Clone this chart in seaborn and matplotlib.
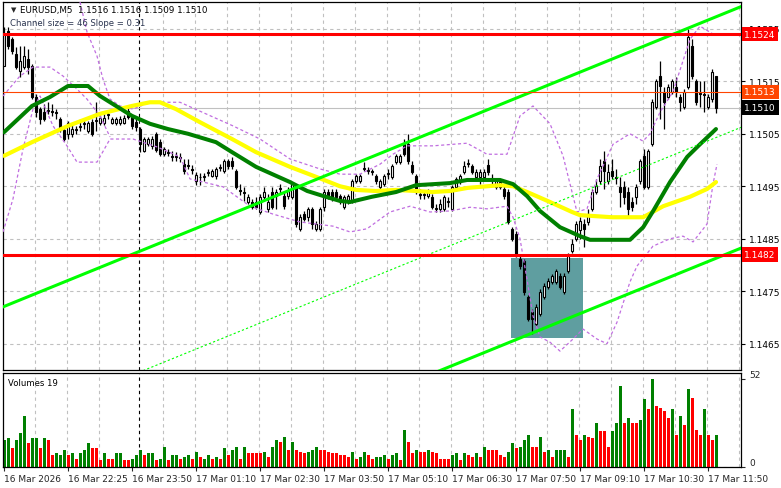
import numpy as np
import pandas as pd
import matplotlib
matplotlib.use("Agg")
import matplotlib.pyplot as plt
import matplotlib.transforms as mtransforms
from matplotlib.patches import Rectangle
import seaborn as sns

sns.set_theme(style="white")
plt.rcParams["font.family"] = ["DejaVu Sans"]

# EURUSD M5, prices as pips above 1.1500
BASE = 1.1500

opens = [17.9, 24.6, 23.0, 20.2, 17.0, 17.7, 19.2, 17.9, 12.0, 9.7,
         9.1, 9.3, 9.3, 9.1, 7.8, 5.7, 5.0, 5.0, 5.7, 6.3,
         6.9, 5.5, 7.2, 7.4, 7.0, 7.0, 8.6, 7.0, 7.0, 7.0,
         7.0, 9.3, 8.2, 7.2, 5.9, 1.7, 3.0, 2.7, 5.0, 3.4,
         1.1, 1.3, 0.6, 0.8, 0.6, -0.8, -1.0, -1.7, -4.0, -3.2,
         -3.2, -2.5, -3.0, -3.0, -1.5, -2.1, -0.2, -0.2, -2.1, -5.7,
         -6.1, -8.0, -8.0, -8.0, -9.9, -7.0, -9.3, -6.1, -6.9, -5.5,
         -6.9, -6.9, -7.0, -5.1, -13.1, -10.3, -10.9, -9.3, -13.1, -13.1,
         -9.0, -6.1, -6.1, -6.1, -6.9, -9.0, -7.8, -7.8, -4.0, -4.0,
         -1.7, -2.1, -2.1, -3.0, -5.1, -4.6, -2.7, -3.2, -0.4, -0.4,
         3.0, 3.0, -1.0, -3.0, -6.5, -6.7, -6.9, -7.0, -9.1, -9.3,
         -9.3, -8.0, -9.3, -5.1, -4.2, -2.3, -0.8, -1.1, -3.2, -3.2,
         -3.2, -1.0, -3.6, -5.1, -5.1, -5.5, -6.1, -13.1, -14.1, -18.9,
         -19.2, -26.1, -29.0, -31.2, -29.3, -26.1, -24.2, -23.2, -23.2, -22.1,
         -25.1, -21.1, -17.3, -15.0, -13.3, -12.2, -11.8, -9.3, -6.1, -4.0,
         -0.2, -4.0, -2.1, -3.2, -5.1, -5.1, -6.1, -8.0, -7.0, -4.0,
         0.8, -5.1, 3.0, 10.1, 16.0, 13.0, 12.0, 13.0, 13.9, 12.0,
         10.1, 13.9, 21.7, 15.0, 12.8, 12.6, 10.1, 11.6, 16.0]
highs = [25.3, 25.3, 23.4, 21.5, 21.7, 21.7, 21.1, 18.3, 12.6, 10.1,
         10.7, 11.0, 10.7, 9.7, 8.2, 6.3, 7.4, 6.9, 6.5, 7.8,
         7.8, 7.4, 7.8, 11.0, 8.6, 8.8, 9.3, 8.2, 8.2, 8.4,
         8.6, 10.1, 8.8, 7.8, 6.3, 4.4, 4.4, 4.6, 5.3, 4.0,
         2.5, 2.1, 1.7, 1.5, 1.3, 0.2, 0.2, -1.0, -2.3, -2.5,
         -2.5, -1.7, -1.7, -1.3, -0.8, 0.2, 0.2, 0.6, -1.7, -4.6,
         -5.1, -6.5, -7.4, -7.0, -6.5, -5.1, -6.5, -5.1, -5.5, -4.6,
         -6.1, -5.1, -4.2, -4.6, -10.3, -9.7, -9.0, -9.0, -11.6, -9.0,
         -5.5, -5.5, -5.5, -5.5, -6.5, -6.7, -6.5, -3.6, -2.7, -2.7,
         -0.4, -1.3, -1.7, -2.7, -3.6, -2.7, -1.7, -0.8, 1.1, 1.1,
         4.0, 5.0, -0.2, -2.7, -5.5, -5.9, -5.5, -6.5, -8.4, -7.4,
         -6.7, -7.0, -4.8, -3.2, -2.7, -0.2, 0.2, -0.8, -1.7, -1.7,
         -1.7, 0.2, -2.7, -3.6, -3.6, -4.8, -5.5, -12.8, -13.5, -18.3,
         -18.9, -25.7, -28.4, -27.4, -24.6, -23.4, -22.5, -21.7, -20.8, -21.5,
         -21.5, -17.7, -15.0, -11.6, -10.9, -11.2, -9.3, -5.5, -3.6, 0.2,
         1.7, -0.8, 0.2, -1.7, -3.2, -4.0, -5.1, -7.0, -4.6, 0.2,
         2.1, 2.1, 11.6, 15.4, 18.9, 13.9, 14.5, 15.4, 15.8, 12.6,
         13.5, 24.9, 23.0, 15.4, 15.0, 15.0, 12.6, 17.3, 16.0]
lows = [17.9, 21.1, 20.2, 17.3, 15.8, 17.3, 16.4, 11.6, 8.2, 6.9,
        7.4, 8.8, 8.4, 7.8, 5.3, 3.6, 4.0, 4.4, 5.0, 5.5,
        5.9, 5.1, 4.6, 5.5, 6.7, 6.7, 7.8, 6.9, 6.7, 6.7,
        6.9, 7.8, 5.9, 5.5, 1.5, 1.5, 2.7, 2.1, 1.5, 0.8,
        0.8, 0.8, -0.2, -0.2, -0.4, -2.7, -1.7, -2.7, -4.8, -4.8,
        -4.0, -3.0, -3.2, -3.6, -2.1, -2.5, -1.7, -1.7, -5.5, -6.7,
        -7.8, -8.4, -9.3, -9.3, -10.3, -7.4, -9.9, -9.3, -9.3, -6.5,
        -9.3, -7.4, -7.4, -12.8, -13.5, -11.6, -11.6, -13.1, -13.5, -13.5,
        -9.7, -7.4, -7.8, -7.4, -8.4, -9.3, -8.4, -8.2, -4.4, -4.4,
        -2.1, -2.7, -2.9, -4.6, -5.5, -5.0, -3.6, -3.6, -0.8, -0.8,
        0.8, -0.8, -2.7, -6.5, -7.4, -7.4, -7.2, -9.3, -9.9, -9.9,
        -9.7, -9.0, -9.7, -5.9, -4.6, -2.7, -1.3, -2.7, -3.6, -4.6,
        -3.6, -2.9, -4.6, -5.5, -5.5, -7.4, -12.2, -15.4, -18.5, -20.8,
        -25.7, -30.7, -33.1, -31.6, -29.7, -26.5, -24.6, -23.6, -23.6, -24.6,
        -25.5, -21.5, -17.7, -15.4, -15.0, -16.6, -12.4, -9.7, -6.5, -4.6,
        -5.5, -4.6, -3.6, -4.6, -9.0, -8.4, -10.9, -9.7, -8.4, -4.6,
        -5.5, -5.5, 2.7, 9.7, 7.8, 5.9, 11.6, 12.6, 12.0, 9.3,
        9.7, 13.5, 15.4, 10.5, 10.1, 9.1, 9.7, 11.0, 9.0]
closes = [24.0, 21.7, 20.8, 17.7, 18.9, 19.8, 17.7, 12.0, 9.1, 7.8,
          7.8, 9.5, 9.1, 9.0, 5.7, 4.0, 7.0, 5.9, 5.9, 6.5,
          7.0, 7.0, 5.0, 7.6, 8.0, 8.0, 8.8, 7.8, 7.8, 7.8,
          8.0, 8.2, 6.5, 6.3, 3.0, 4.0, 4.0, 4.0, 1.9, 1.1,
          2.1, 1.5, 0.8, 0.6, 0.4, -2.1, -1.1, -1.9, -2.9, -3.3,
          -3.0, -2.3, -2.1, -1.7, -1.3, -0.2, -1.1, -1.1, -5.1, -5.9,
          -6.3, -7.0, -9.0, -9.0, -7.0, -6.1, -8.0, -9.0, -6.1, -5.3,
          -8.8, -5.9, -4.6, -12.2, -10.9, -11.2, -9.3, -12.2, -12.2, -9.3,
          -6.1, -7.0, -7.4, -7.0, -7.8, -7.0, -6.9, -4.0, -3.0, -3.0,
          -1.5, -1.9, -2.3, -4.0, -4.0, -3.0, -2.5, -1.1, 0.8, 0.8,
          1.1, -0.2, -2.3, -6.1, -6.7, -6.5, -5.9, -9.0, -9.3, -8.4,
          -7.0, -7.8, -5.1, -3.6, -3.0, -1.1, -0.6, -2.3, -2.3, -2.3,
          -2.3, -2.3, -3.8, -4.0, -4.2, -6.9, -11.8, -15.0, -18.3, -20.2,
          -25.1, -30.3, -30.3, -28.0, -25.1, -24.0, -23.1, -22.1, -21.1, -24.2,
          -22.1, -18.3, -16.0, -12.2, -11.6, -13.1, -10.3, -6.1, -5.0, -1.1,
          -2.1, -2.3, -3.0, -3.4, -6.1, -7.0, -9.3, -9.0, -5.1, -0.2,
          -5.1, 1.7, 11.0, 15.0, 14.1, 11.0, 13.9, 15.0, 13.0, 11.0,
          13.0, 23.4, 16.0, 11.0, 12.6, 12.4, 12.0, 16.8, 10.0]

volumes = [16, 17, 11, 16, 20, 30, 14, 17, 17, 11, 17, 16, 7, 8, 7, 10, 7, 8, 5, 8,
           10, 14, 11, 11, 4, 8, 5, 5, 8, 8, 4, 4, 5, 7, 10, 7, 8, 8, 4, 5,
           12, 4, 7, 7, 5, 6, 7, 5, 9, 6, 5, 7, 5, 6, 5, 11, 7, 10, 12, 5,
           12, 8, 8, 8, 8, 9, 6, 12, 16, 15, 18, 10, 15, 10, 9, 8, 9, 10, 12, 10,
           10, 9, 8, 8, 7, 7, 6, 9, 5, 6, 9, 7, 5, 6, 6, 7, 5, 7, 8, 4,
           22, 15, 8, 10, 9, 9, 10, 9, 8, 5, 5, 5, 7, 8, 4, 8, 7, 6, 8, 6,
           12, 10, 10, 10, 7, 6, 9, 14, 11, 12, 16, 19, 12, 12, 18, 9, 10, 6, 10, 10,
           10, 6, 34, 19, 16, 19, 18, 17, 26, 21, 21, 12, 21, 26, 48, 26, 29, 26, 26, 28,
           40, 34, 52, 36, 35, 33, 29, 34, 19, 30, 25, 46, 41, 22, 19, 34, 19, 16, 19]
# g = volume bar drawn green, r = red
vol_up = ("ggrgggrggrgrrgggrgrg" "ggrrrgrrggrrgggrggrg" "grggrggrgrggrgrgrggr"
          "grrrrgrggrgrgrrrgggr" "rrrrrrrgrggrrgggrggr" "grrgrrgrrrrrggrgrrgr"
          "grrrrrggrgggrrgrgrgg" "grgrrgrrgrrrgggrgrrg" "grgrrrrgrgrgrrrgrrg")

# moving averages, (bar, pips)
ma_green_bar = [0, 7, 11.5, 16, 21, 24, 28, 32, 36.5, 41, 46, 53, 57, 63, 71.5, 75.8, 80, 84, 86.5,
                92, 98, 103, 111.5, 115.8, 124, 127.3, 130.8, 134, 139, 144, 146.5, 156.5, 159.8,
                162.3, 166.5, 170.8, 174, 178]
ma_green = [5.3, 10.3, 12.0, 14.1, 14.1, 12.2, 10.3, 8.4, 6.9, 5.9, 5.0, 3.4, 1.5, -1.3, -4.2, -5.9,
            -6.9, -7.8, -8.0, -7.0, -6.1, -4.8, -4.4, -3.8, -3.8, -4.6, -6.9, -9.7, -12.8, -14.5,
            -15.2, -15.2, -12.8, -9.7, -4.2, 0.6, 3.0, 5.9]
ma_yel_bar = [0, 7, 16, 24, 32, 36.5, 39, 43, 49, 57, 63, 71.5, 78, 84, 88, 93, 98, 103, 107, 111.5,
              116, 124, 127.3, 130.8, 136.5, 142, 144, 152, 159.8, 164.8, 171.5, 175.8, 178]
ma_yel = [0.8, 3.4, 6.5, 8.8, 10.3, 11.0, 11.0, 9.7, 7.2, 4.0, 1.5, -1.3, -3.2, -5.0, -5.7, -5.9,
          -5.7, -5.9, -6.1, -5.9, -5.3, -4.8, -5.0, -6.1, -8.0, -9.9, -10.5, -10.9, -10.9, -8.8,
          -7.0, -5.5, -4.2]

# dashed band lines, (bar, pips)
up_bar = [19, 20.75, 23.25, 24.75, 26.5, 29, 32.25, 36.5, 44, 49, 57.25, 64, 71.5, 79, 84, 89,
          94, 97.25, 100.75, 107.25, 115.75, 120.75, 125.75, 129, 132.25, 136.5, 139.75, 143.25,
          145.75, 148.25, 152.25, 156.5, 159.75, 161.5, 164, 167.25, 169.75, 171.5, 174, 177.25]
up_band = [30.1, 24.4, 19.8, 15.4, 11.6, 10.3, 9.7, 11.0, 11.0, 9.3, 6.5, 4.0, 0.2, -1.7,
           -2.7, -2.7, -0.8, 1.1, 2.7, 2.7, 3.2, 1.1, 1.1, 8.4, 10.3, 6.9, 0.8, -9.9, -9.3, -3.6,
           3.0, 5.0, 3.6, 5.0, 9.1, 13.0, 18.9, 23.0, 25.5, 24.0]
env_bar = [-0.25, 4, 7.25, 11.5, 14.75, 18.25, 20.75, 24, 26.5]
env_band = [12.2, 16.0, 17.7, 17.7, 16.0, 13.5, 11.6, 8.4, 4.4]
lo_bar = [-0.25, 2.25, 4.75, 7.25, 9, 12.25, 15.75, 18.25, 23.25, 26.5, 32.25, 38.25, 44, 46.5,
          54.75, 61.5, 67.25, 74, 82.25, 86.5, 90.75, 96.5, 101.5, 106.5, 111.5, 116.5, 120.75,
          125.75, 127.25, 129, 130.75, 132.25, 134, 136.5, 139, 142.25, 144.75, 148.25, 150.75,
          153.25, 156.5, 158.25, 162.25, 166.5, 169.75, 172.25, 175.75, 177.25, 178.25]
lo_band = [-13.7, -7.4, 2.1, 9.7, 12.2, 6.5, 2.7, -0.4, -0.4, 4.0, 4.0, 2.5, 0.6, -3.6,
           -5.1, -8.8, -10.3, -11.8, -12.6, -13.7, -13.1, -9.9, -8.8, -9.9, -9.7, -9.0, -9.3,
           -8.8, -10.9, -15.0, -22.7, -29.7, -33.7, -34.7, -36.4, -34.1, -32.2, -34.1, -35.0,
           -30.9, -23.2, -20.2, -16.4, -15.0, -14.5, -15.6, -12.2, -4.6, -0.8]

# regression channel
CHANNEL_SIZE = 46
SLOPE = 0.31
chan_start = -27.9  # upper line at bar 0

levels_red = [24, -18]          # 1.1524, 1.1482
ask_level, bid_level = 13, 10   # 1.1513, 1.1510
zone_bars = (126.75, 144.75)
zone_pips = (-33.9, -18.7)

time_ticks = [0, 16, 32, 48, 64, 80, 96, 112, 128, 144, 160, 176]
time_labels = ["16 Mar 2026", "16 Mar 22:25", "16 Mar 23:50", "17 Mar 01:10", "17 Mar 02:30",
               "17 Mar 03:50", "17 Mar 05:10", "17 Mar 06:30", "17 Mar 07:50", "17 Mar 09:10",
               "17 Mar 10:30", "17 Mar 11:50"]
price_ticks = [-35, -25, -15, -5, 5, 15, 25]

series = [opens, highs, lows, closes, volumes, vol_up]
assert len({len(s) for s in series}) == 1, [len(s) for s in series]

df = pd.DataFrame({"bar": np.arange(len(closes)), "open": opens, "high": highs,
                   "low": lows, "close": closes, "volume": volumes,
                   "up": [c == "g" for c in vol_up]})

W, H = 781, 489
fig = plt.figure(figsize=(W / 100, H / 100), dpi=100)


def box(l, t, r, b):
    return [l / W, 1 - b / H, (r - l) / W, (b - t) / H]


ax = fig.add_axes(box(3, 3, 741, 371))
axv = fig.add_axes(box(3, 374, 741, 468), sharex=ax)
xlim = (-0.25, 184.25)
ax.set_xlim(*xlim)
ax.set_ylim(-40.0, 30.1)
axv.set_ylim(0, 55.5)

grid_kw = dict(color="#c0c0c0", lw=0.8, ls=(0, (3, 3)), zorder=0)
for a in (ax, axv):
    for b in range(8, 185, 8):
        if b != 32:
            a.axvline(b - 0.25, **grid_kw)
    a.axvline(33.75, color="black", lw=0.8, ls=(0, (3, 3)), zorder=0.5)
    for s in a.spines.values():
        s.set_color("black")
        s.set_linewidth(0.9)
for p in price_ticks:
    ax.axhline(p, **grid_kw)
axv.axhline(0, **grid_kw)

# zone
ax.add_patch(Rectangle((zone_bars[0], zone_pips[0]), zone_bars[1] - zone_bars[0],
                       zone_pips[1] - zone_pips[0], facecolor="#5f9ea0", edgecolor="none", zorder=0.8))

# candles
body_lo = df[["open", "close"]].min(axis=1)
body_h = (df["close"] - df["open"]).abs().clip(lower=0.12)
ax.vlines(df["bar"], df["low"], df["high"], color="black", lw=0.9, zorder=2)
ax.bar(df["bar"], body_h, bottom=body_lo, width=0.72,
       color=np.where(df["close"] >= df["open"], "white", "black"),
       edgecolor="black", linewidth=0.8, zorder=2.1)

# indicators
dash_kw = dict(color="#c06ee0", lw=0.9, linestyle=(0, (2.5, 2)), zorder=3)
sns.lineplot(x=up_bar, y=up_band, ax=ax, **dash_kw)
sns.lineplot(x=env_bar, y=env_band, ax=ax, **dash_kw)
sns.lineplot(x=lo_bar, y=lo_band, ax=ax, **dash_kw)
sns.lineplot(x=ma_yel_bar, y=ma_yel, ax=ax, color="#ffff00", lw=3.0, zorder=3.2)
sns.lineplot(x=ma_green_bar, y=ma_green, ax=ax, color="#008000", lw=2.9, zorder=3.3)

cx = np.array([xlim[0] - 1, xlim[1] + 1])
upper = chan_start + SLOPE * cx
ax.plot(cx, upper, color="#00ff00", lw=2.2, zorder=3.5)
ax.plot(cx, upper - CHANNEL_SIZE, color="#00ff00", lw=2.2, zorder=3.5)
ax.plot(cx, upper - CHANNEL_SIZE / 2, color="#00ff00", lw=0.8, ls=(0, (2, 2)), zorder=3.5)

for lv in levels_red:
    ax.axhline(lv, color="#ff0000", lw=2.2, zorder=3.6)
ax.axhline(ask_level, color="#ff4500", lw=0.8, zorder=3.6)
ax.axhline(bid_level, color="#c0c0c0", lw=0.8, zorder=1.5)

# volumes
axv.bar(df["bar"], df["volume"], width=0.75,
        color=np.where(df["up"], "#008000", "#ff0000"), linewidth=0, zorder=2)

# axes text
ax.yaxis.tick_right()
ax.set_yticks(price_ticks)
ax.set_yticklabels([f"{BASE + p / 1e4:.4f}" for p in price_ticks])
ax.tick_params(axis="y", right=True, length=3, width=0.8, color="black", pad=3,
               labelsize=6.5, labelcolor="black")
ax.tick_params(axis="x", bottom=False, labelbottom=False)
axv.yaxis.tick_right()
axv.set_yticks([0, 52])
axv.set_yticklabels(["0", "52"])
axv.tick_params(axis="y", right=True, length=3, width=0.8, pad=3, labelsize=6.5)
axv.set_xticks(time_ticks)
axv.set_xticklabels(time_labels, ha="left")
axv.tick_params(axis="x", bottom=True, length=3, width=0.8, pad=2, labelsize=6.5)
for lab in axv.get_yticklabels():
    lab.set_va("bottom")

trans = mtransforms.blended_transform_factory(ax.transAxes, ax.transData)
for lv, txt, col in [(24, "1.1524", "#ff0000"), (13, "1.1513", "#ff4500"),
                     (10, "1.1510", "black"), (-18, "1.1482", "#ff0000")]:
    ax.text(1.0045, lv, txt, transform=trans, ha="left", va="center", fontsize=6.5, color="white",
            bbox=dict(boxstyle="square,pad=0.3", fc=col, ec="none"), zorder=10, clip_on=False)

ax.text(8 / 738, 1 - 7 / 368, "\u25bc", transform=ax.transAxes, fontsize=5, va="center", ha="left")
ax.text(17 / 738, 1 - 7 / 368, "EURUSD,M5  1.1516 1.1516 1.1509 1.1510", transform=ax.transAxes,
        fontsize=6.3, va="center", ha="left", color="black", zorder=10)
ax.text(7 / 738, 1 - 21 / 368, "Channel size = 46 Slope = 0.31", transform=ax.transAxes,
        fontsize=6.1, va="center", ha="left", color="#2b3550", zorder=10)
axv.text(5 / 738, 1 - 10 / 94, "Volumes 19", transform=axv.transAxes, fontsize=6.1,
         va="center", ha="left", color="black")

fig.savefig("out.png", dpi=100, facecolor="white")
